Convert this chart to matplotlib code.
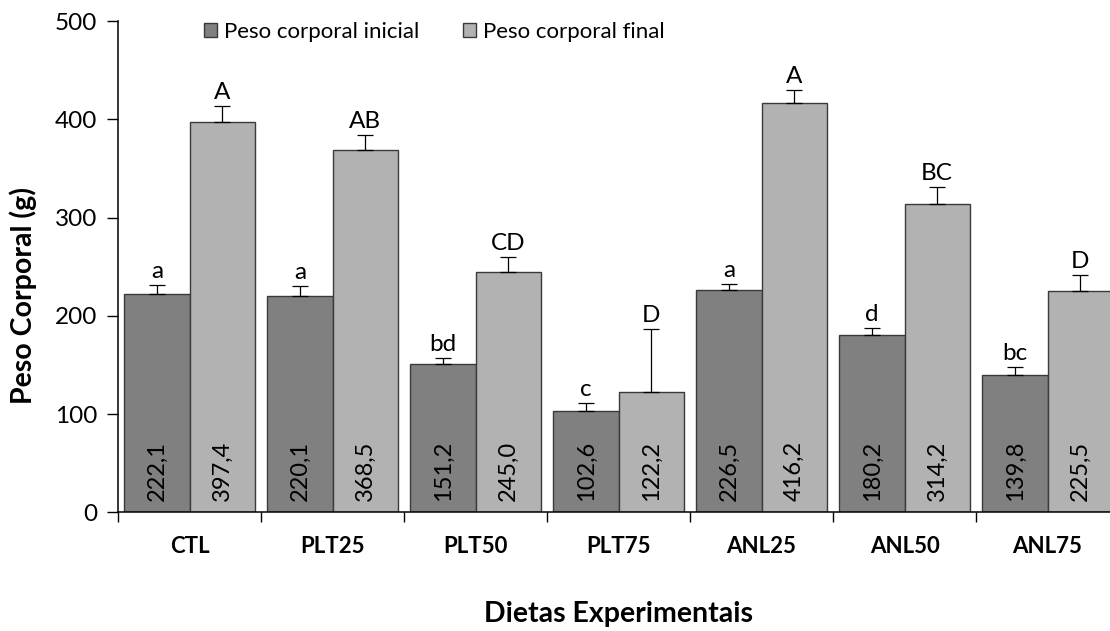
import numpy as np
import matplotlib
matplotlib.use("Agg")
import matplotlib.pyplot as plt
from matplotlib.patches import Patch

plt.rcParams['font.family'] = ['Lato', 'DejaVu Sans']

diets = ["CTL", "PLT25", "PLT50", "PLT75", "ANL25", "ANL50", "ANL75"]
initial_weight = [222.1, 220.1, 151.2, 102.6, 226.5, 180.2, 139.8]
final_weight = [397.4, 368.5, 245.0, 122.2, 416.2, 314.2, 225.5]
initial_err = [9.2, 10.0, 6.1, 8.6, 6.2, 7.4, 8.0]
final_err = [16.4, 15.8, 15.0, 64.0, 13.9, 16.6, 15.7]
initial_letters = ["a", "a", "bd", "c", "a", "d", "bc"]
final_letters = ["A", "AB", "CD", "D", "A", "BC", "D"]

c_init = "#808080"
c_final = "#b2b2b2"
edge = "#3a3a3a"

fig = plt.figure(figsize=(11.1, 6.31), dpi=100)
ax = fig.add_axes([118 / 1110, (631 - 512.3) / 631, 1001 / 1110, 491.3 / 631])

x = np.arange(len(diets))
w = 0.455
err_kw = dict(ecolor="black", elinewidth=0.9, capsize=5.5, capthick=0.9)

ax.bar(x - w / 2, initial_weight, w, color=c_init, edgecolor=edge, linewidth=1.0,
       yerr=[np.zeros(len(x)), initial_err], error_kw=err_kw, zorder=2)
ax.bar(x + w / 2, final_weight, w, color=c_final, edgecolor=edge, linewidth=1.0,
       yerr=[np.zeros(len(x)), final_err], error_kw=err_kw, zorder=2)

for i in range(len(x)):
    for xpos, val, err, let in ((x[i] - w / 2, initial_weight[i], initial_err[i], initial_letters[i]),
                                (x[i] + w / 2, final_weight[i], final_err[i], final_letters[i])):
        ax.text(xpos, val + err + 3, let, ha="center", va="bottom", fontsize=17.5, color="black")
        ax.text(xpos, 12, f"{val:.1f}".replace(".", ","), rotation=90, ha="center", va="bottom",
                fontsize=17, color="black", zorder=3)

ax.set_xlim(-0.5, len(x) - 0.5)
ax.set_ylim(0, 500)
ax.set_yticks([0, 100, 200, 300, 400, 500])
ax.tick_params(axis="y", direction="out", length=8, width=1.0, labelsize=17.5, pad=7)

ax.set_xticks(x)
ax.set_xticklabels(diets, fontweight="bold", fontsize=16)
ax.tick_params(axis="x", which="major", length=0, pad=17)
ax.set_xticks(np.arange(len(x) + 1) - 0.5, minor=True)
ax.tick_params(axis="x", which="minor", direction="out", length=7, width=1.0)

for s in ("top", "right"):
    ax.spines[s].set_visible(False)
for s in ("left", "bottom"):
    ax.spines[s].set_linewidth(1.1)

ax.set_ylabel("Peso Corporal (g)", fontweight="bold", fontsize=20.5, va="center")
ax.yaxis.set_label_coords(-0.095, 0.442)
ax.set_xlabel("Dietas Experimentais", fontweight="bold", fontsize=20.5, va="center")
ax.xaxis.set_label_coords(0.5, -0.207)

handles = [Patch(facecolor=c_init, edgecolor=edge, label="Peso corporal inicial"),
           Patch(facecolor=c_final, edgecolor=edge, label="Peso corporal final")]
fig.legend(handles=handles, loc="center left", bbox_to_anchor=(204 / 1110, 1 - 32 / 631),
           ncol=2, frameon=False, fontsize=16, handlelength=0.58, handleheight=0.58,
           handletextpad=0.3, columnspacing=2.0, borderaxespad=0, borderpad=0)

fig.savefig("out.png", dpi=100)
